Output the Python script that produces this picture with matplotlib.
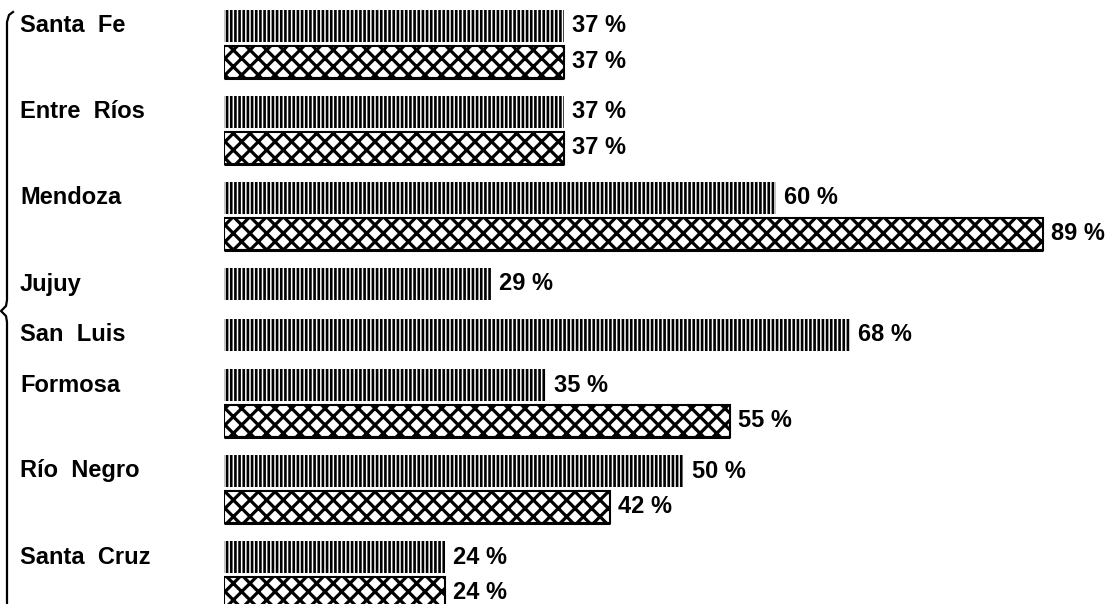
import matplotlib
matplotlib.use("Agg")
import matplotlib.pyplot as plt
import matplotlib.transforms as mtransforms
from matplotlib.lines import Line2D

provinces = ["Santa Fe", "Entre Ríos", "Mendoza", "Jujuy", "San Luis", "Formosa", "Río Negro", "Santa Cruz"]
stripe_vals = [37, 37, 60, 29, 68, 35, 50, 24]
cross_vals = [37, 37, 89, None, None, 55, 42, 24]

W, H, DPI = 1120, 604, 100
X0 = 224          # pixel where bars start
PX_PER_PCT = 9.2
BAR_H = 32
PITCH = 35.5      # bar to bar inside a group
GAP = 15          # between groups
FONT = "Liberation Sans"
FS = 17

fig = plt.figure(figsize=(W / DPI, H / DPI), dpi=DPI)
fig.patch.set_facecolor("white")
ax = fig.add_axes([X0 / W, 0, 1 - X0 / W, 1])
ax.set_xlim(0, (W - X0) / PX_PER_PCT)
ax.set_ylim(H, 0)
ax.axis("off")

lab_tr = mtransforms.blended_transform_factory(fig.transFigure, ax.transData)
pad = 8 / PX_PER_PCT


def hbar(y, v, hatch, lw_edge, hlw):
    with plt.rc_context({"hatch.linewidth": hlw}):
        b = ax.barh(y, v, height=BAR_H, left=0, color="white", edgecolor="black",
                    linewidth=lw_edge, hatch=hatch)[0]
    if hasattr(b, "set_hatch_linewidth"):
        b.set_hatch_linewidth(hlw)
    return b


y = 26
for name, s, c in zip(provinces, stripe_vals, cross_vals):
    fig.text(20 / W, y, name.replace(" ", "  "), transform=lab_tr, ha="left", va="center",
             fontsize=FS, family=FONT, fontweight="bold")
    hbar(y, s, "||||", 0, 1.9)
    ax.text(s + pad, y, f"{s} %", ha="left", va="center", fontsize=FS,
            family=FONT, fontweight="bold")
    n = 1
    if c is not None:
        yc = y + PITCH
        hbar(yc, c, "xx", 1.5, 2.3)
        ax.plot([0, c], [yc + BAR_H / 2, yc + BAR_H / 2], color="black", lw=2.2,
                solid_capstyle="butt")
        ax.text(c + pad, yc, f"{c} %", ha="left", va="center", fontsize=FS,
                family=FONT, fontweight="bold")
        n = 2
    y += n * PITCH + GAP

# brace on the left edge
bx = [13, 9, 7, 7, 6, 1, 6, 7, 7]
by = [12, 15, 22, 300, 306, 311, 316, 322, H]
fig.add_artist(Line2D([v / W for v in bx], [1 - v / H for v in by],
                      transform=fig.transFigure, color="black", lw=1.6))

fig.savefig("out.png", dpi=DPI, facecolor="white")
